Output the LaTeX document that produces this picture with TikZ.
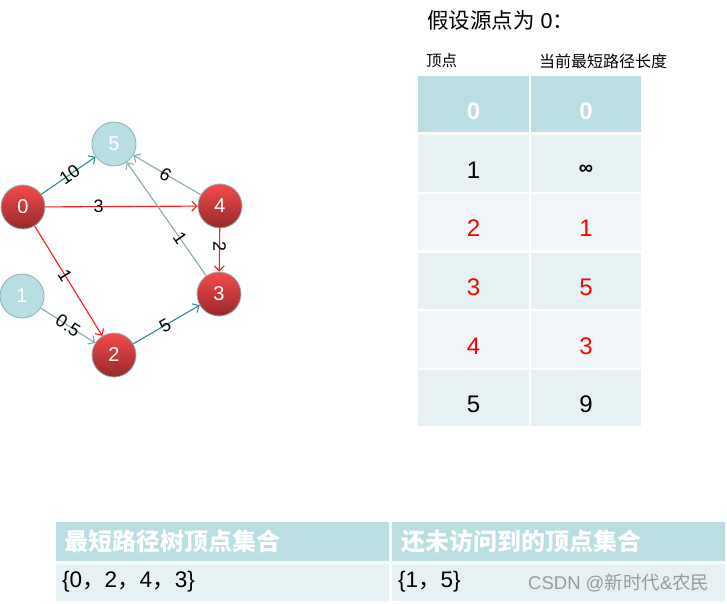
\documentclass[tikz,border=0pt]{standalone}
\usepackage{fontspec}
\setmainfont{Liberation Sans}
\newfontfamily\cjk{Noto Sans CJK SC}
\usetikzlibrary{arrows.meta}
\definecolor{hdr}{HTML}{B9DFE3}
\definecolor{rowA}{HTML}{E6F1F3}
\definecolor{rowB}{HTML}{F1F7F9}
\definecolor{lightnode}{HTML}{B7DEE2}
\definecolor{nodeborder}{HTML}{8EB3B5}
\definecolor{redtop}{HTML}{F54B4B}
\definecolor{redbot}{HTML}{982828}
\definecolor{tealedge}{HTML}{31898F}
\definecolor{grayteal}{HTML}{86ABAD}
\definecolor{edgered}{HTML}{FF1A1A}
\definecolor{tablered}{HTML}{FF0000}
\definecolor{wmark}{HTML}{9A9A9A}
\tikzset{
  vtx/.style={circle, minimum size=44pt, inner sep=0pt, draw=nodeborder, line width=0.8pt, text=white, font=\fontsize{20}{20}\selectfont},
  rednode/.style={vtx, top color=redtop, bottom color=redbot},
  bluenode/.style={vtx, fill=lightnode},
  edge/.style={line width=1.1pt, -{Straight Barb[length=5pt,width=10pt]}},
  wlab/.style={font=\fontsize{18}{18}\selectfont, inner sep=0pt, text=black},
  cellL/.style={minimum width=111pt, minimum height=56.5pt, inner sep=0pt},
  cellR/.style={minimum width=110pt, minimum height=56.5pt, inner sep=0pt},
  ctext/.style={inner sep=0pt, yshift=-6.5pt, font=\fontsize{24}{24}\selectfont},
  htext/.style={ctext, text=white, font=\bfseries\fontsize{24}{24}\selectfont},
  bhead/.style={minimum width=333pt, minimum height=39pt, inner sep=0pt, fill=hdr},
  brow/.style={minimum width=333pt, minimum height=37pt, inner sep=0pt, fill=rowA},
  btext/.style={anchor=west, inner sep=0pt, font=\fontsize{22.5}{22.5}\selectfont},
  bhtext/.style={anchor=west, inner sep=0pt, text=white, font=\cjk\bfseries\fontsize{24}{24}\selectfont},
}
\begin{document}
\begin{tikzpicture}[x=1pt,y=-1pt]
\useasboundingbox (0,0) rectangle (727,604);
% graph nodes
\node[bluenode] (n5) at (114,144) {5};
\node[rednode]  (n0) at (23,207) {0};
\node[rednode]  (n4) at (220,206) {4};
\node[bluenode] (n1) at (22,296) {1};
\node[rednode]  (n3) at (219,294) {3};
\node[rednode]  (n2) at (114,355) {2};
% edges
\draw[edge, tealedge] (n0) -- node[wlab, pos=0.52, sloped] (l05) {10} (n5);
\draw[edge, edgered] (n0) -- node[wlab, pos=0.35, sloped] (l04) {3} (n4);
\draw[edge, edgered] (n0) -- node[wlab, pos=0.45, sloped] (l02) {1} (n2);
\draw[edge, grayteal] (n4) -- node[wlab, pos=0.52, sloped] (l45) {6} (n5);
\draw[edge, grayteal] (n3) -- node[wlab, pos=0.33, sloped] (l35) {1} (n5);
\draw[edge, edgered] (n4) -- node[wlab, pos=0.43, rotate=-90] (l43) {2} (n3);
\draw[edge, grayteal] (n1) -- node[wlab, pos=0.5, sloped] (l12) {0.5} (n2);
\draw[edge, tealedge] (n2) -- node[wlab, pos=0.48, sloped] (l23) {5} (n3);
% titles
\node[anchor=west, inner sep=0pt, font=\fontsize{21.5}{21.5}\selectfont] (title) at (427,20) {{\cjk 假设源点为} 0{\cjk ：}};
\node[anchor=west, inner sep=0pt, font=\cjk\fontsize{15.5}{15.5}\selectfont] (hv) at (426,61) {顶点};
\node[anchor=west, inner sep=0pt, font=\cjk\fontsize{16}{16}\selectfont] (hd) at (539,61) {当前最短路径长度};
% table cells
\node[cellL, fill=hdr] (a0) at (473.5,104.25) {};
\node[cellR, fill=hdr] (b0) at (586,104.25) {};
\node[cellL, fill=rowA] (a1) at (473.5,163.25) {};
\node[cellR, fill=rowA] (b1) at (586,163.25) {};
\node[cellL, fill=rowB] (a2) at (473.5,222) {};
\node[cellR, fill=rowB] (b2) at (586,222) {};
\node[cellL, fill=rowA] (a3) at (473.5,280.75) {};
\node[cellR, fill=rowA] (b3) at (586,280.75) {};
\node[cellL, fill=rowB] (a4) at (473.5,339.5) {};
\node[cellR, fill=rowB] (b4) at (586,339.5) {};
\node[cellL, fill=rowA] (a5) at (473.5,398) {};
\node[cellR, fill=rowA] (b5) at (586,398) {};
% table texts
\node[htext] (ta0) at (a0) {0};
\node[htext] (tb0) at (b0) {0};
\node[ctext] (ta1) at (a1) {1};
\node[ctext, font=\bfseries\fontsize{20}{20}\selectfont] (tb1) at (b1) {∞};
\node[ctext, text=tablered] (ta2) at (a2) {2};
\node[ctext, text=tablered] (tb2) at (b2) {1};
\node[ctext, text=tablered] (ta3) at (a3) {3};
\node[ctext, text=tablered] (tb3) at (b3) {5};
\node[ctext, text=tablered] (ta4) at (a4) {4};
\node[ctext, text=tablered] (tb4) at (b4) {3};
\node[ctext] (ta5) at (a5) {5};
\node[ctext] (tb5) at (b5) {9};
% bottom table
\node[bhead] (bh1) at (222.5,541.5) {};
\node[bhead] (bh2) at (558.5,541.5) {};
\node[brow] (br1) at (222.5,582.5) {};
\node[brow] (br2) at (558.5,582.5) {};
\node[bhtext] (bt1) at (64,541) {最短路径树顶点集合};
\node[bhtext] (bt2) at (401,541) {还未访问到的顶点集合};
\node[btext] (bv1) at (62,582) {\{0{\cjk ，}2{\cjk ，}4{\cjk ，}3\}};
\node[btext] (bv2) at (398,582) {\{1{\cjk ，}5\}};
\node[anchor=west, inner sep=0pt, text=wmark, font=\fontsize{18.5}{18.5}\selectfont] (wm) at (528,583) {CSDN @{\cjk 新时代}\&{\cjk 农民}};
\end{tikzpicture}
\end{document}
